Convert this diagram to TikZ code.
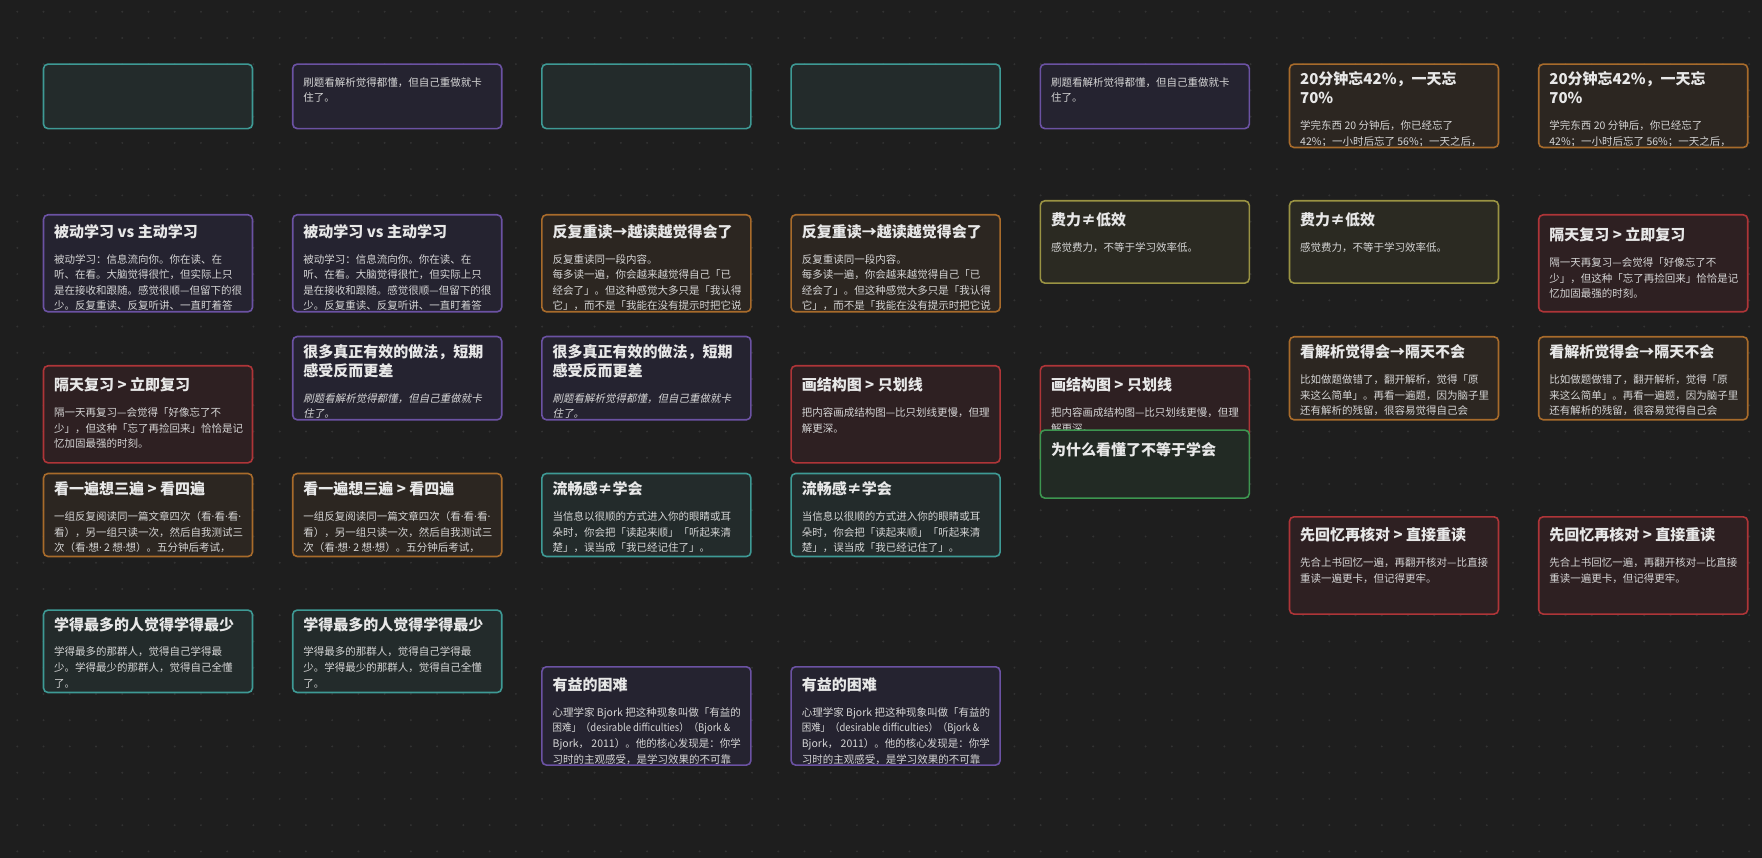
\documentclass[tikz,border=0pt]{standalone}
\usepackage{fontspec}
\setmainfont{Noto Sans CJK SC}[AutoFakeSlant=0.2]
\newfontfamily\latinfont{Noto Sans}
\newcommand\md{{\latinfont ·}}
\definecolor{bgc}{HTML}{1E1E1E}
\definecolor{dotc}{HTML}{323232}
\definecolor{tealB}{HTML}{3E9A95}\definecolor{tealF}{HTML}{232B2B}
\definecolor{purpB}{HTML}{6B52A3}\definecolor{purpF}{HTML}{252330}
\definecolor{oranB}{HTML}{A86B2B}\definecolor{oranF}{HTML}{2C2621}
\definecolor{redB}{HTML}{AE3538}\definecolor{redF}{HTML}{2E2022}
\definecolor{oliveB}{HTML}{9A9343}\definecolor{oliveF}{HTML}{2B2A22}
\definecolor{greenB}{HTML}{3D9650}\definecolor{greenF}{HTML}{222A24}
\definecolor{ttlc}{HTML}{E8E8E8}
\definecolor{bodyc}{HTML}{D6D6D6}
\newcommand\cardtitlefont{\fontsize{15}{19}\selectfont\bfseries}
\newcommand\cardbodyfont{\fontsize{10.5}{15.6}\selectfont}
\tikzset{
  cardbox/.style={rounded corners=4.5pt, line width=1.6pt, minimum width=209pt, inner sep=0pt},
  cteal/.style={draw=tealB, fill=tealF},
  cpurple/.style={draw=purpB, fill=purpF},
  corange/.style={draw=oranB, fill=oranF},
  cred/.style={draw=redB, fill=redF},
  colive/.style={draw=oliveB, fill=oliveF},
  cgreen/.style={draw=greenB, fill=greenF},
  ttl/.style={anchor=base west, inner sep=0pt, text=ttlc, font=\cardtitlefont},
  bdy/.style={anchor=base west, inner sep=0pt, text=bodyc, font=\cardbodyfont},
}
% #1 name, #2 x, #3 y, #4 h, #5 style, #6 title offset, #7 title lines, #8 body lines, #9 number of title lines
\newcommand\card[9]{%
  \node[cardbox,#5,minimum height=#4pt,anchor=north west] (#1) at (#2,#3) {};
  \begin{scope}
    \clip (#2+1,#3+1) rectangle (#2+208,#3+#4-1.2);
    \foreach \tl [count=\i] in {#7} {
      \node[ttl] (#1-t\i) at (#2+11.3, #3+#6+5.7+19*\i-19) {\tl};
    }
    \foreach \bl [count=\j] in {#8} {
      \node[bdy] (#1-b\j) at (#2+11.3, #3+#6+19*#9-19+27.5+4+15.6*\j-15.6) {\bl};
    }
  \end{scope}
}
\begin{document}
\begin{tikzpicture}[x=1pt,y=-1pt]
\useasboundingbox (0,0) rectangle (1762,858);
\fill[bgc] (0,0) rectangle (1762,858);
\foreach \gx in {0,...,66} {
  \foreach \gy in {0,...,32} {
    \fill[dotc] (17.3+26.24*\gx, 11.7+26.24*\gy) circle[radius=1.1];
  }
}
% ---------- column 1 ----------
\card{c1a}{42.7}{63.3}{64.5}{cteal}{0}{}{}{1}
\card{c1b}{42.7}{214}{97}{cpurple}{17.6}{{被动学习 vs 主动学习}}{{被动学习：信息流向你。你在读、在},{听、在看。大脑觉得很忙，但实际上只},{是在接收和跟随。感觉很顺—但留下的很},{少。反复重读、反复听讲、一直盯着答}}{1}
\card{c1c}{42.7}{365}{97}{cred}{20}{{隔天复习 > 立即复习}}{{隔一天再复习—会觉得「好像忘了不},{少」，但这种「忘了再捡回来」恰恰是记},{忆加固最强的时刻。}}{1}
\card{c1d}{42.7}{472.7}{83}{corange}{16.3}{{看一遍想三遍 > 看四遍}}{{一组反复阅读同一篇文章四次（看\md 看\md 看\md},{看），另一组只读一次，然后自我测试三},{次（看\md 想\md\ 2 想\md 想）。五分钟后考试，}}{1}
\card{c1e}{42.7}{609.3}{82.4}{cteal}{15}{{学得最多的人觉得学得最少}}{{学得最多的那群人，觉得自己学得最},{少。学得最少的那群人，觉得自己全懂},{了。}}{1}
% ---------- column 2 ----------
\card{c2a}{291.9}{63.3}{64.5}{cpurple}{10.5}{}{{刷题看解析觉得都懂，但自己重做就卡},{住了。}}{0}
\card{c2b}{291.9}{214}{97}{cpurple}{17.6}{{被动学习 vs 主动学习}}{{被动学习：信息流向你。你在读、在},{听、在看。大脑觉得很忙，但实际上只},{是在接收和跟随。感觉很顺—但留下的很},{少。反复重读、反复听讲、一直盯着答}}{1}
\card{c2c}{291.9}{335.7}{83.3}{cpurple}{16}{{很多真正有效的做法，短期},{感受反而更差}}{{\itshape 刷题看解析觉得都懂，但自己重做就卡},{\itshape 住了。}}{2}
\card{c2d}{291.9}{472.7}{83}{corange}{16.3}{{看一遍想三遍 > 看四遍}}{{一组反复阅读同一篇文章四次（看\md 看\md 看\md},{看），另一组只读一次，然后自我测试三},{次（看\md 想\md\ 2 想\md 想）。五分钟后考试，}}{1}
\card{c2e}{291.9}{609.3}{82.4}{cteal}{15}{{学得最多的人觉得学得最少}}{{学得最多的那群人，觉得自己学得最},{少。学得最少的那群人，觉得自己全懂},{了。}}{1}
% ---------- column 3 ----------
\card{c3a}{541.1}{63.3}{64.5}{cteal}{0}{}{}{1}
\card{c3b}{541.1}{214}{97}{corange}{17.7}{{反复重读→越读越觉得会了}}{{反复重读同一段内容。},{每多读一遍，你会越来越觉得自己「已},{经会了」。但这种感觉大多只是「我认得},{它」，而不是「我能在没有提示时把它说}}{1}
\card{c3c}{541.1}{335.7}{83.3}{cpurple}{16}{{很多真正有效的做法，短期},{感受反而更差}}{{\itshape 刷题看解析觉得都懂，但自己重做就卡},{\itshape 住了。}}{2}
\card{c3d}{541.1}{472.7}{83}{cteal}{16.3}{{流畅感≠学会}}{{当信息以很顺的方式进入你的眼睛或耳},{朵时，你会把「读起来顺」「听起来清},{楚」，误当成「我已经记住了」。}}{1}
\card{c3e}{541.1}{666}{98.3}{cpurple}{18.7}{{有益的困难}}{{心理学家 Bjork 把这种现象叫做「有益的},{\scalebox{0.9}[1]{困难」（desirable difficulties）（Bjork \&}},{Bjork， 2011）。他的核心发现是：你学},{习时的主观感受，是学习效果的不可靠}}{1}
% ---------- column 4 ----------
\card{c4a}{790.3}{63.3}{64.5}{cteal}{0}{}{}{1}
\card{c4b}{790.3}{214}{97}{corange}{17.7}{{反复重读→越读越觉得会了}}{{反复重读同一段内容。},{每多读一遍，你会越来越觉得自己「已},{经会了」。但这种感觉大多只是「我认得},{它」，而不是「我能在没有提示时把它说}}{1}
\card{c4c}{790.3}{365}{97}{cred}{20}{{画结构图 > 只划线}}{{把内容画成结构图—比只划线更慢，但理},{解更深。}}{1}
\card{c4d}{790.3}{472.7}{83}{cteal}{16.3}{{流畅感≠学会}}{{当信息以很顺的方式进入你的眼睛或耳},{朵时，你会把「读起来顺」「听起来清},{楚」，误当成「我已经记住了」。}}{1}
\card{c4e}{790.3}{666}{98.3}{cpurple}{18.7}{{有益的困难}}{{心理学家 Bjork 把这种现象叫做「有益的},{\scalebox{0.9}[1]{困难」（desirable difficulties）（Bjork \&}},{Bjork， 2011）。他的核心发现是：你学},{习时的主观感受，是学习效果的不可靠}}{1}
% ---------- column 5 ----------
\card{c5a}{1039.5}{63.3}{64.5}{cpurple}{10.5}{}{{刷题看解析觉得都懂，但自己重做就卡},{住了。}}{0}
\card{c5b}{1039.5}{200}{82.3}{colive}{20}{{费力≠低效}}{{感觉费力，不等于学习效率低。}}{1}
\card{c5c}{1039.5}{365}{97}{cred}{20}{{画结构图 > 只划线}}{{把内容画成结构图—比只划线更慢，但理},{解更深。}}{1}
\card{c5d}{1039.5}{429.3}{68}{cgreen}{20}{{为什么看懂了不等于学会}}{}{1}
% ---------- column 6 ----------
\card{c6a}{1288.7}{63.3}{83.4}{corange}{16}{{20分钟忘42\%，一天忘},{70\%}}{{学完东西 20 分钟后，你已经忘了},{42\%；一小时后忘了 56\%；一天之后，}}{2}
\card{c6b}{1288.7}{200}{82.3}{colive}{20}{{费力≠低效}}{{感觉费力，不等于学习效率低。}}{1}
\card{c6c}{1288.7}{336}{83}{corange}{16.3}{{看解析觉得会→隔天不会}}{{比如做题做错了，翻开解析，觉得「原},{来这么简单」。再看一遍题，因为脑子里},{还有解析的残留，很容易觉得自己会}}{1}
\card{c6d}{1288.7}{516}{97.3}{cred}{19}{{先回忆再核对 > 直接重读}}{{先合上书回忆一遍，再翻开核对—比直接},{重读一遍更卡，但记得更牢。}}{1}
% ---------- column 7 ----------
\card{c7a}{1537.9}{63.3}{83.4}{corange}{16}{{20分钟忘42\%，一天忘},{70\%}}{{学完东西 20 分钟后，你已经忘了},{42\%；一小时后忘了 56\%；一天之后，}}{2}
\card{c7b}{1537.9}{214}{97}{cred}{21}{{隔天复习 > 立即复习}}{{隔一天再复习—会觉得「好像忘了不},{少」，但这种「忘了再捡回来」恰恰是记},{忆加固最强的时刻。}}{1}
\card{c7c}{1537.9}{336}{83}{corange}{16.3}{{看解析觉得会→隔天不会}}{{比如做题做错了，翻开解析，觉得「原},{来这么简单」。再看一遍题，因为脑子里},{还有解析的残留，很容易觉得自己会}}{1}
\card{c7d}{1537.9}{516}{97.3}{cred}{19}{{先回忆再核对 > 直接重读}}{{先合上书回忆一遍，再翻开核对—比直接},{重读一遍更卡，但记得更牢。}}{1}
\end{tikzpicture}
\end{document}
